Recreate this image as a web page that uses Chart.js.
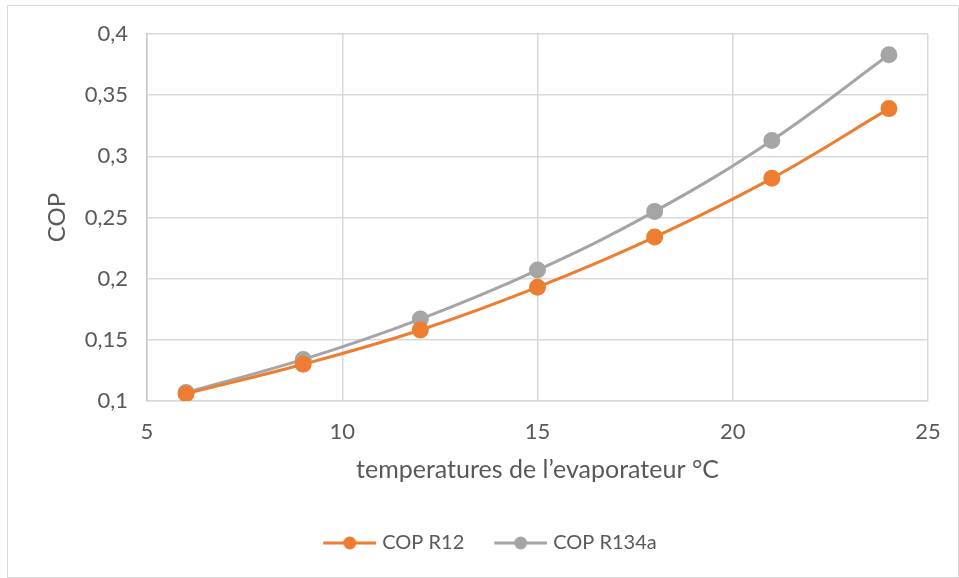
<!DOCTYPE html>
<html>
<head>
<meta charset="utf-8">
<script src="https://cdn.jsdelivr.net/npm/chart.js@4/dist/chart.umd.min.js"></script>
<style>
html,body{margin:0;padding:0;background:#fff;}
#wrap{position:relative;width:959px;height:578px;}
</style>
</head>
<body>
<div id="wrap"><canvas id="c" width="959" height="578"></canvas></div>
<script>
const temps = [6, 9, 12, 15, 18, 21, 24];
const copR12 = [0.106, 0.130, 0.158, 0.193, 0.234, 0.282, 0.339];
const copR134a = [0.107, 0.134, 0.167, 0.207, 0.255, 0.313, 0.383];
const seriesNames = ['COP R12', 'COP R134a'];
const xTitle = 'temperatures de l\u2019evaporateur °C';
const yTitle = 'COP';

const ORANGE = '#ED7D31', GRAY = '#A5A5A5', TEXT = '#595959', GRID = '#D9D9D9';
const FONT = 'Lato, "Open Sans", sans-serif';

function legendIcon(color){
  const c = document.createElement('canvas');
  c.width = 77; c.height = 16;
  const g = c.getContext('2d');
  g.strokeStyle = color; g.lineWidth = 3;
  g.beginPath(); g.moveTo(24, 8); g.lineTo(77, 8); g.stroke();
  g.fillStyle = color;
  g.beginPath(); g.arc(50.5, 8, 6.5, 0, Math.PI*2); g.fill();
  return c;
}
const icons = [legendIcon(ORANGE), legendIcon(GRAY)];

const borderPlugin = {
  id: 'outerBorder',
  beforeDraw(chart){
    const g = chart.ctx;
    g.save();
    g.fillStyle = '#fff';
    g.fillRect(0,0,chart.width,chart.height);
    g.strokeStyle = '#D9D9D9';
    g.lineWidth = 1;
    g.strokeRect(7.5, 5.5, 951, 572);
    g.restore();
  }
};

const toPts = (xs, ys) => xs.map((x,i)=>({x:x, y:ys[i]}));

new Chart(document.getElementById('c'), {
  type: 'line',
  data: {
    datasets: [
      {label: seriesNames[0], data: toPts(temps, copR12), borderColor: ORANGE, backgroundColor: ORANGE,
       borderWidth: 3, pointRadius: 7, pointHoverRadius: 7, pointBackgroundColor: ORANGE, pointBorderColor: ORANGE, tension: 0.4},
      {label: seriesNames[1], data: toPts(temps, copR134a), borderColor: GRAY, backgroundColor: GRAY,
       borderWidth: 3, pointRadius: 7, pointHoverRadius: 7, pointBackgroundColor: GRAY, pointBorderColor: GRAY, tension: 0.4}
    ]
  },
  options: {
    responsive: false,
    animation: false,
    layout: {padding: {left: 32, right: 31, top: 34, bottom: 15}},
    plugins: {
      tooltip: {enabled: false},
      legend: {
        position: 'bottom',
        labels: {
          usePointStyle: true,
          pointStyleWidth: 69,
          font: {family: FONT, size: 20},
          color: TEXT,
          padding: 10,
          boxHeight: 16,
          generateLabels(chart){
            return chart.data.datasets.map((ds,i)=>({
              text: ds.label, fillStyle: ds.borderColor, strokeStyle: ds.borderColor,
              pointStyle: icons[i], datasetIndex: i, hidden: false, lineWidth: 0, fontColor: TEXT
            }));
          }
        }
      }
    },
    scales: {
      x: {
        type: 'linear', min: 5, max: 25,
        ticks: {stepSize: 5, color: TEXT, font: {family: FONT, size: 22}, padding: 18},
        grid: {color: GRID, drawTicks: false, lineWidth: 1.5},
        border: {color: GRID, width: 1.5},
        title: {display: true, text: xTitle, color: TEXT, font: {family: FONT, size: 25}, padding: {top: 10, bottom: 38}},
        afterFit(s){ s.height = 122; }
      },
      y: {
        min: 0.1, max: 0.4,
        ticks: {stepSize: 0.05, color: TEXT, font: {family: FONT, size: 22}, padding: 19,
          callback: v => Number(v.toFixed(2)).toString().replace('.', ',')},
        grid: {color: GRID, drawTicks: false, lineWidth: 1.5},
        border: {color: '#C8C8C8', width: 1.5},
        title: {display: true, text: yTitle, color: TEXT, font: {family: FONT, size: 24}, padding: {top: 11, bottom: 0}},
        afterFit(s){ s.width = 115; }
      }
    }
  },
  plugins: [borderPlugin]
});
</script>
</body>
</html>
